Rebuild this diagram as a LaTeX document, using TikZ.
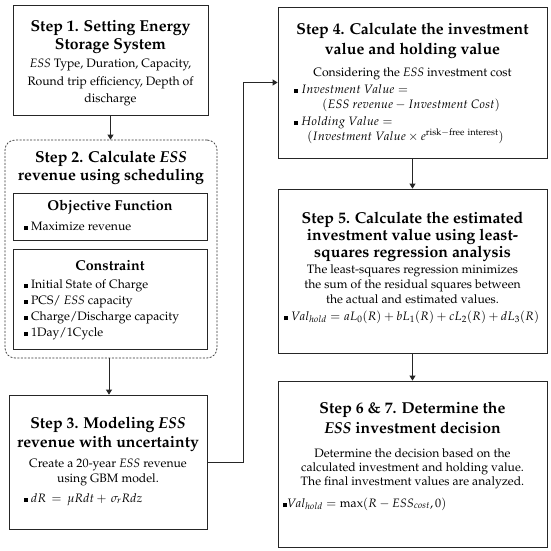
\documentclass[tikz,border=0pt]{standalone}
\usepackage[T1]{fontenc}
\usepackage{mathpazo}
\usetikzlibrary{arrows.meta}
\newcommand{\bsq}{\rule{3.8pt}{3.8pt}\hspace{3pt}}
\tikzset{
  box/.style={draw=black!85, line width=0.8pt, rectangle, inner sep=0},
  innerbox/.style={draw=black!85, line width=0.7pt, rectangle, inner sep=0},
  dbox/.style={draw=black!80, line width=0.7pt, dash pattern=on 2pt off 1.5pt, rounded corners=10pt, rectangle, inner sep=0},
  ttl/.style={font=\fontsize{15.8}{18}\selectfont\bfseries, anchor=base, inner sep=0},
  sub/.style={font=\fontsize{14.3}{16}\selectfont\bfseries, anchor=base, inner sep=0},
  txt/.style={font=\fontsize{12.2}{14}\selectfont, anchor=base, inner sep=0},
  ltxt/.style={font=\fontsize{12.2}{14}\selectfont, anchor=base west, inner sep=0},
  arr/.style={draw=black!85, line width=0.8pt, -{Triangle[length=5pt,width=6pt]}},
}
\begin{document}
\begin{tikzpicture}[x=1pt,y=-1pt]
\useasboundingbox[fill=white] (0,0) rectangle (550,551);

% Boxes
\node[box, minimum width=195pt, minimum height=110pt] (b1) at (110.5,60) {};
\node[dbox, minimum width=212pt, minimum height=218pt] (b2) at (111,249) {};
\node[innerbox, minimum width=194pt, minimum height=47pt] (obj) at (110,216.5) {};
\node[innerbox, minimum width=194pt, minimum height=100pt] (con) at (110,299) {};
\node[box, minimum width=198pt, minimum height=134pt] (b3) at (108,462) {};
\node[box, minimum width=269pt, minimum height=151pt] (b4) at (412.5,82.5) {};
\node[box, minimum width=269pt, minimum height=164pt] (b5) at (412.5,271) {};
\node[box, minimum width=269pt, minimum height=166pt] (b6) at (412.5,464) {};

% Step 1
\node[ttl] (t1a) at (110.5,32) {Step 1. Setting Energy};
\node[ttl] (t1b) at (110.5,50) {Storage System};
\node[txt] (t1c) at (110.5,67) {\textit{ESS} Type, Duration, Capacity,};
\node[txt] (t1d) at (110.5,85) {Round trip efficiency, Depth of};
\node[txt] (t1e) at (110.5,102) {discharge};

% Step 2
\node[ttl] (t2a) at (111,162) {Step 2. Calculate \textit{ESS}};
\node[ttl] (t2b) at (111,180) {revenue using scheduling};
\node[sub] (o1) at (110,210) {Objective Function};
\node[ltxt] (o2) at (24,230) {\bsq Maximize revenue};
\node[sub] (c1) at (110,270) {Constraint};
\node[ltxt] (c2) at (24,288) {\bsq Initial State of Charge};
\node[ltxt] (c3) at (24,304) {\bsq PCS/ \textit{ESS} capacity};
\node[ltxt] (c4) at (24,320) {\bsq Charge/Discharge capacity};
\node[ltxt] (c5) at (24,336) {\bsq 1Day/1Cycle};

% Step 3
\node[ttl] (t3a) at (108,428) {Step 3. Modeling \textit{ESS}};
\node[ttl] (t3b) at (108,447) {revenue with uncertainty};
\node[txt] (t3c) at (108,467) {Create a 20-year \textit{ESS} revenue};
\node[txt] (t3d) at (108,482) {using GBM model.};
\node[ltxt] (t3e) at (24,502) {\bsq $dR\,=\,\mu Rdt +\,\sigma_r Rdz$};

% Step 4
\node[ttl] (t4a) at (412.5,35) {Step 4. Calculate the investment};
\node[ttl] (t4b) at (412.5,55) {value and holding value};
\node[txt] (t4c) at (412.5,76) {Considering the \textit{ESS} investment cost};
\node[ltxt] (t4d) at (294,93) {\bsq $Investment\ Value =$};
\node[ltxt] (t4e) at (322,108) {$(ESS\ revenue - Investment\ Cost)$};
\node[ltxt] (t4f) at (294,125) {\bsq $Holding\ Value =$};
\node[ltxt] (t4g) at (307,140) {$(Investment\ Value \times e^{\mathrm{risk-free\ interest}})$};

% Step 5
\node[ttl] (t5a) at (412.5,223) {Step 5. Calculate the estimated};
\node[ttl] (t5b) at (412.5,240) {investment value using least-};
\node[ttl] (t5c) at (412.5,257) {squares regression analysis};
\node[txt] (t5d) at (412.5,273) {The least-squares regression minimizes};
\node[txt] (t5e) at (412.5,288) {the sum of the residual squares between};
\node[txt] (t5f) at (412.5,303) {the actual and estimated values.};
\node[ltxt] (t5g) at (284,320) {\bsq $Val_{hold} = aL_0(R) + bL_1(R) + cL_2(R) + dL_3(R)$};

% Step 6 & 7
\node[ttl] (t6a) at (412.5,413) {Step 6 \& 7. Determine the};
\node[ttl] (t6b) at (412.5,433) {\textit{ESS} investment decision};
\node[txt] (t6c) at (412.5,457) {Determine the decision based on the};
\node[txt] (t6d) at (412.5,471) {calculated investment and holding value.};
\node[txt] (t6e) at (412.5,485) {The final investment values are analyzed.};
\node[ltxt] (t6f) at (283,507) {\rule{3.8pt}{3.8pt}$Val_{hold} = \max(R - ESS_{cost}, 0)$};

% Connectors
\draw[arr] (b1.south) -- (b1.south |- b2.north);
\draw[arr] ([xshift=-2pt]b2.south) -- ([xshift=-2pt]b2.south |- b3.north);
\coordinate (bend) at (243,462);
\draw[arr] (b3.east) -- (bend) |- (b4.west);
\draw[arr] (b4.south) -- (b5.north);
\draw[arr] (b5.south) -- (b6.north);
\end{tikzpicture}
\end{document}
